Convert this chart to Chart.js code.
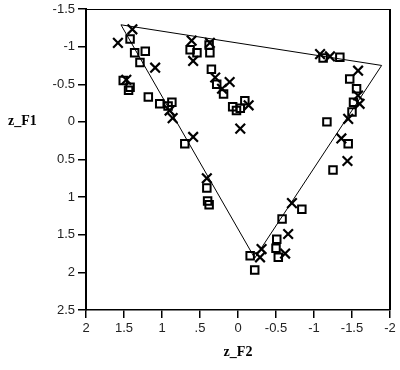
<!DOCTYPE html>
<html>
<head>
<meta charset="utf-8">
<script src="https://cdn.jsdelivr.net/npm/chart.js@4/dist/chart.umd.min.js"></script>
<style>
html,body{margin:0;padding:0;background:#fff;}
#wrap{position:relative;width:400px;height:370px;}
</style>
</head>
<body>
<div id="wrap"><canvas id="c" width="400" height="370"></canvas></div>
<script>
// Squares (z_F2, z_F1)
const squareX = [1.42, 1.36, 1.22, 1.29, 1.51, 1.42, 1.44, 1.18, 1.03, 0.87, 0.92, 0.70, 0.41, 0.40, 0.38,
  0.63, 0.54, 0.37, 0.38, 0.35, 0.28, 0.19, 0.07, -0.03, -0.09, 0.02,
  -1.12, -1.34, -1.47, -1.56, -1.52, -1.50, -1.17, -1.45, -1.25,
  -0.84, -0.58, -0.51, -0.50, -0.53, -0.16, -0.22];
const squareY = [-1.10, -0.92, -0.94, -0.79, -0.55, -0.46, -0.42, -0.33, -0.24, -0.26, -0.21, 0.29, 0.88, 1.05, 1.10,
  -0.96, -0.92, -0.92, -1.02, -0.70, -0.50, -0.37, -0.20, -0.18, -0.28, -0.15,
  -0.85, -0.86, -0.57, -0.44, -0.26, -0.13, 0.00, 0.29, 0.64,
  1.16, 1.29, 1.56, 1.68, 1.80, 1.78, 1.97];
// Crosses (z_F2, z_F1)
const crossX = [1.58, 1.39, 1.47, 1.09, 0.90, 0.86, 0.59, 0.41,
  0.61, 0.37, 0.59, 0.30, 0.21, 0.11, -0.14, -0.03,
  -1.08, -1.21, -1.58, -1.58, -1.60, -1.45, -1.36, -1.44,
  -0.71, -0.66, -0.62, -0.31, -0.29];
const crossY = [-1.05, -1.23, -0.56, -0.72, -0.15, -0.05, 0.20, 0.75,
  -1.08, -1.05, -0.81, -0.59, -0.44, -0.53, -0.22, 0.09,
  -0.90, -0.87, -0.68, -0.35, -0.24, -0.04, 0.22, 0.52,
  1.08, 1.49, 1.75, 1.69, 1.80];
// Triangle outline
const triX = [1.54, -1.89, -0.22, 1.54];
const triY = [-1.29, -0.75, 1.81, -1.29];
// Tick labels
const xTickValues = [2, 1.5, 1, 0.5, 0, -0.5, -1, -1.5, -2];
const xTickLabels = ['2', '1.5', '1', '.5', '0', '-0.5', '-1', '-1.5', '-2'];
const yTickValues = [-1.5, -1, -0.5, 0, 0.5, 1, 1.5, 2, 2.5];
const yTickLabels = ['-1.5', '-1', '-0.5', '0', '0.5', '1', '1.5', '2', '2.5'];
const xTitle = 'z_F2';
const yTitle = 'z_F1';

const toPts = (xs, ys) => xs.map((x, i) => ({x: x, y: ys[i]}));
const lab = (vals, labs) => (v) => {
  const i = vals.findIndex(t => Math.abs(t - v) < 1e-9);
  return i >= 0 ? labs[i] : '';
};

const framePlugin = {
  id: 'frame',
  afterDraw(chart) {
    const {ctx, chartArea: a} = chart;
    ctx.save();
    ctx.strokeStyle = '#000';
    ctx.lineWidth = 1;
    ctx.beginPath();
    ctx.moveTo(a.left, a.top + 0.5);
    ctx.lineTo(a.right, a.top + 0.5);
    ctx.stroke();
    ctx.lineWidth = 2;
    ctx.beginPath();
    ctx.moveTo(a.right, a.top);
    ctx.lineTo(a.right, a.bottom);
    ctx.stroke();
    ctx.fillStyle = '#000';
    ctx.font = 'bold 14px "Liberation Serif", serif';
    ctx.textAlign = 'left';
    ctx.textBaseline = 'middle';
    const y0 = chart.scales.y.getPixelForValue(0);
    ctx.fillText(yTitle, 8, y0);
    ctx.textAlign = 'center';
    ctx.fillText(xTitle, (a.left + a.right) / 2, 352);
    ctx.restore();
  }
};

new Chart(document.getElementById('c'), {
  type: 'scatter',
  data: {
    datasets: [
      {
        data: toPts(triX, triY),
        showLine: true,
        borderColor: '#000',
        borderWidth: 1,
        pointRadius: 0,
        tension: 0,
        fill: false
      },
      {
        data: toPts(squareX, squareY),
        pointStyle: 'rect',
        pointRadius: 5.3,
        borderColor: '#000',
        backgroundColor: 'rgba(255,255,255,0)',
        borderWidth: 2
      },
      {
        data: toPts(crossX, crossY),
        pointStyle: 'crossRot',
        pointRadius: 6.8,
        borderColor: '#000',
        borderWidth: 2.2
      }
    ]
  },
  options: {
    responsive: false,
    animation: false,
    events: [],
    layout: {padding: {left: 0, right: 10, top: 6, bottom: 0}},
    plugins: {legend: {display: false}, tooltip: {enabled: false}},
    scales: {
      x: {
        type: 'linear',
        reverse: true,
        min: -2, max: 2,
        afterFit: (s) => { s.height = 60; s.paddingLeft = 0; s.paddingRight = 0; },
        afterBuildTicks: (s) => { s.ticks = xTickValues.map(v => ({value: v})); },
        border: {display: true, color: '#000', width: 1.5},
        grid: {display: true, drawOnChartArea: false, drawTicks: true, tickLength: 8, color: '#000', lineWidth: 1.5},
        ticks: {
          color: '#222',
          font: {family: '"Liberation Sans", Arial, sans-serif', size: 13},
          padding: 3,
          maxRotation: 0,
          autoSkip: false,
          callback: lab(xTickValues, xTickLabels)
        }
      },
      y: {
        type: 'linear',
        reverse: true,
        min: -1.5, max: 2.5,
        afterFit: (s) => { s.width = 86; s.paddingTop = 0; s.paddingBottom = 0; },
        afterBuildTicks: (s) => { s.ticks = yTickValues.map(v => ({value: v})); },
        border: {display: true, color: '#000', width: 2},
        grid: {display: true, drawOnChartArea: false, drawTicks: true, tickLength: 8, color: '#000', lineWidth: 1.5},
        ticks: {
          color: '#222',
          font: {family: '"Liberation Sans", Arial, sans-serif', size: 13},
          padding: 3,
          autoSkip: false,
          callback: lab(yTickValues, yTickLabels)
        }
      }
    }
  },
  plugins: [framePlugin]
});
</script>
</body>
</html>
